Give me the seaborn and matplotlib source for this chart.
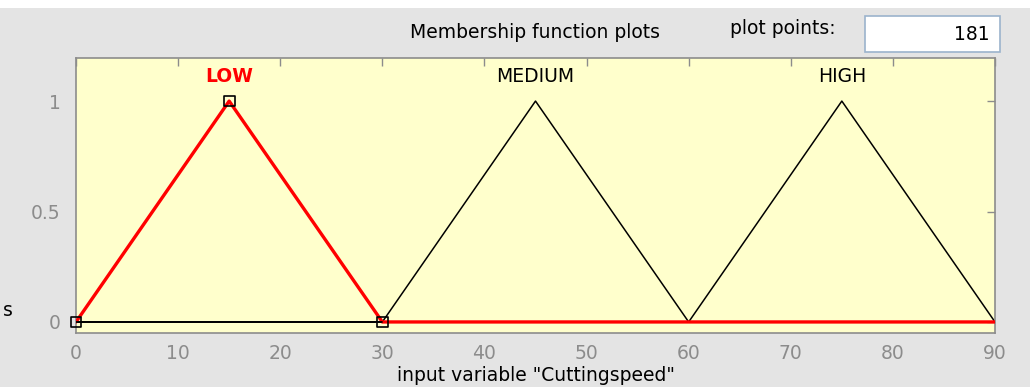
import matplotlib
matplotlib.use("Agg")
import matplotlib.pyplot as plt
import seaborn as sns
import pandas as pd
from matplotlib.patches import Rectangle

# Membership functions of the input variable (triangular, vertices listed)
mf_names = ["LOW", "MEDIUM", "HIGH"]
mf_x = {
    "LOW": [0, 15, 30, 90],
    "MEDIUM": [0, 30, 45, 60, 90],
    "HIGH": [0, 60, 75, 90],
}
mf_y = {
    "LOW": [0, 1, 0, 0],
    "MEDIUM": [0, 0, 1, 0, 0],
    "HIGH": [0, 0, 1, 0],
}
peaks = {"LOW": 15, "MEDIUM": 45, "HIGH": 75}
selected = "LOW"
x_ticks = [0, 10, 20, 30, 40, 50, 60, 70, 80, 90]
y_ticks = [0, 0.5, 1]
y_ticklabels = ["0", "0.5", "1"]
plot_points = 181

sns.set_theme(style="white")
plt.rcParams["font.family"] = ["DejaVu Sans"]
FS = 13.5

fig = plt.figure(figsize=(10.3, 3.87), dpi=100, facecolor="#e4e4e4")
fig.patches.append(Rectangle((0, 1 - 8 / 387), 1, 8 / 387, transform=fig.transFigure,
                             facecolor="white", edgecolor="none", zorder=0))
ax = fig.add_axes([76 / 1030, 1 - 333 / 387, (995 - 76) / 1030, (333 - 58) / 387])
ax.set_facecolor("#ffffcc")

frames = []
for name in mf_names:
    frames.append(pd.DataFrame({"x": mf_x[name], "mu": mf_y[name], "mf": name}))
df = pd.concat(frames, ignore_index=True)

others = df[df["mf"] != selected]
for name, grp in others.groupby("mf"):
    sns.lineplot(data=grp, x="x", y="mu", sort=False, color="black", lw=1.1, ax=ax,
                 estimator=None)
sel = df[df["mf"] == selected]
sns.lineplot(data=sel, x="x", y="mu", sort=False, color="red", lw=2.4, ax=ax,
             estimator=None, zorder=3)
# black baseline under the selected function's rising/falling part
ax.plot([0, 30], [0, 0], color="black", lw=1.3, zorder=4)

# vertex handles of the selected function
sel_vx = mf_x[selected][:3]
sel_vy = mf_y[selected][:3]
ax.scatter(sel_vx, sel_vy, marker="s", s=60, facecolors="none", edgecolors="black",
           linewidths=1.2, zorder=5, clip_on=False)

for name in mf_names:
    if name == selected:
        ax.text(peaks[name], 1.11, name, color="red", fontweight="bold",
                ha="center", va="center", fontsize=FS)
    else:
        ax.text(peaks[name], 1.11, name, color="black", ha="center", va="center",
                fontsize=FS)

ax.set_xlim(0, 90)
ax.set_ylim(-0.05, 1.195)
ax.set_xticks(x_ticks)
ax.set_yticks(y_ticks)
ax.set_yticklabels(y_ticklabels)
ax.tick_params(axis="both", direction="in", length=6, width=1, colors="#8c8c8c",
               labelcolor="#8c8c8c", labelsize=FS, top=True, right=True)
ax.tick_params(axis="x", pad=8)
ax.tick_params(axis="y", pad=11)
for sp in ax.spines.values():
    sp.set_color("#8c8c8c")
    sp.set_linewidth(1.2)
ax.set_xlabel('input variable "Cuttingspeed"', fontsize=FS, color="black", labelpad=2)
ax.set_ylabel("")

fig.text(535 / 1030, 1 - 33 / 387, "Membership function plots", ha="center", va="center",
         fontsize=FS, color="black")
fig.text(783 / 1030, 1 - 29 / 387, "plot points:", ha="center", va="center",
         fontsize=FS, color="black")
fig.patches.append(Rectangle((865 / 1030, 1 - 52 / 387), 135 / 1030, 36 / 387,
                             transform=fig.transFigure, facecolor="white",
                             edgecolor="#9bb3cc", linewidth=1.2, zorder=1))
fig.text(990 / 1030, 1 - 34 / 387, str(plot_points), ha="right", va="center",
         fontsize=FS, color="black")
fig.text(8 / 1030, 1 - 311 / 387, "s", ha="center", va="center", fontsize=FS,
         color="black")

fig.savefig("out.png", dpi=100, facecolor=fig.get_facecolor())
